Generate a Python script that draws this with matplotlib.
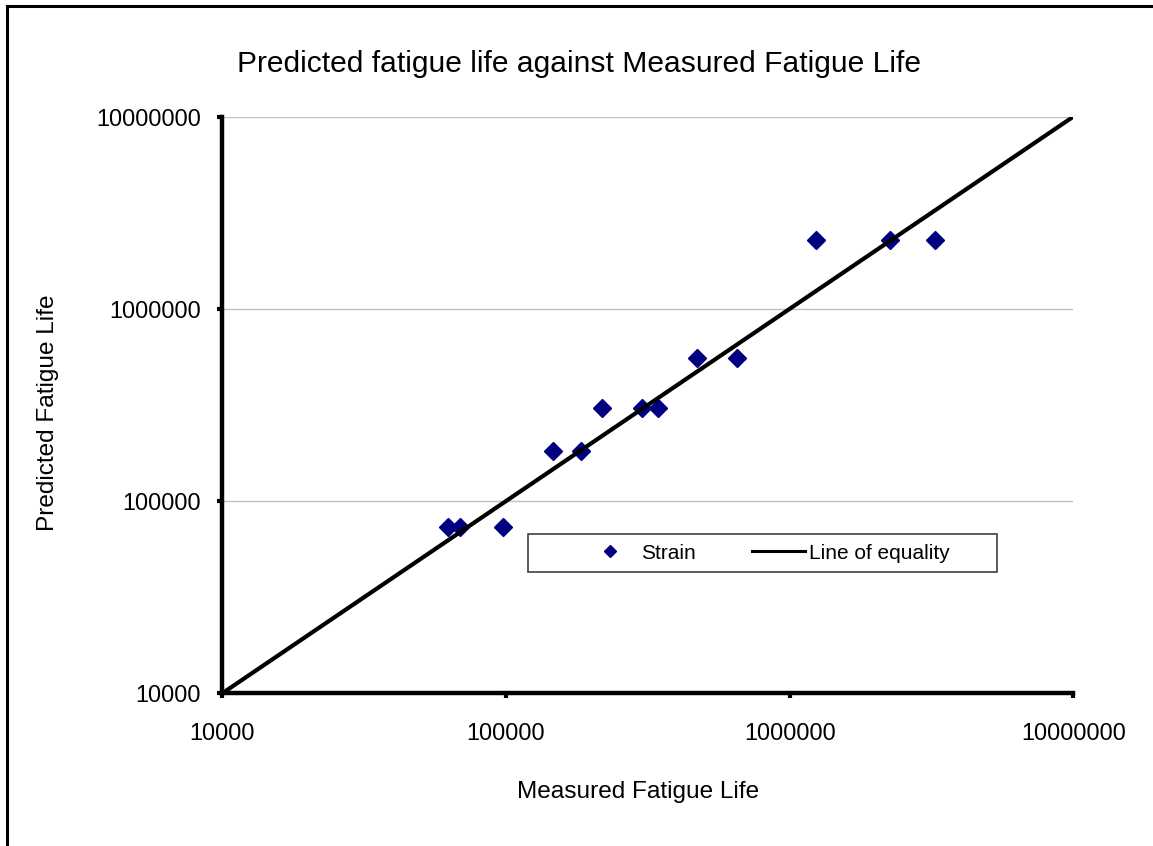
import matplotlib
matplotlib.use("Agg")
import matplotlib.pyplot as plt
from matplotlib.lines import Line2D
from matplotlib.patches import Rectangle
from matplotlib.ticker import FixedLocator, NullLocator

plt.rcParams["font.family"] = ["Liberation Sans", "DejaVu Sans"]

# measured vs predicted fatigue life
measured = [62600, 68900, 97800, 146100, 183800, 218500, 300800,
            344200, 470100, 650500, 1235000, 2257000, 3252000]
predicted = [73500, 73500, 73500, 182300, 182300, 306200, 306200,
             306200, 553400, 553400, 2283000, 2283000, 2283000]
equality = [10000, 10000000]
ticks = [10000, 100000, 1000000, 10000000]
tick_labels = ["10000", "100000", "1000000", "10000000"]

fig = plt.figure(figsize=(11.53, 8.46), dpi=100)
ax = fig.add_axes([0.1928, 0.1805, 0.7381, 0.6816])

ax.set_xscale("log")
ax.set_yscale("log")
ax.set_xlim(equality)
ax.set_ylim(equality)

ax.plot(measured, predicted, linestyle="none", marker="D", ms=8.7,
        color="#000080", zorder=3, clip_on=False)
ax.plot(equality, equality, color="black", lw=3, zorder=4,
        solid_capstyle="butt")

ax.xaxis.set_major_locator(FixedLocator(ticks))
ax.yaxis.set_major_locator(FixedLocator(ticks))
ax.xaxis.set_minor_locator(NullLocator())
ax.yaxis.set_minor_locator(NullLocator())
ax.set_xticklabels(tick_labels)
ax.set_yticklabels(tick_labels)
ax.tick_params(axis="both", direction="out", length=3.5, width=3,
               labelsize=16.8, colors="black")
ax.tick_params(axis="x", pad=17)
ax.tick_params(axis="y", pad=12)

ax.grid(axis="y", color="#c0c0c0", lw=1, zorder=0)
ax.set_axisbelow(True)
for side in ["top", "right"]:
    ax.spines[side].set_visible(False)
for side in ["left", "bottom"]:
    ax.spines[side].set_linewidth(3.2)

fig.text(0.502, 1 - 64 / 846,
         "Predicted fatigue life against Measured Fatigue Life",
         fontsize=21.6, ha="center", va="center")
ax.set_xlabel("Measured Fatigue Life", fontsize=17.6, va="center")
ax.set_ylabel("Predicted Fatigue Life", fontsize=17.6, va="center")
ax.xaxis.set_label_coords(0.4885, -0.171)
ax.yaxis.set_label_coords(-0.2048, 0.486)

# legend box drawn separately so the padding matches
ax.add_patch(Rectangle((0.3596, 0.2109), 0.5511, 0.0654,
                       transform=ax.transAxes, facecolor="white",
                       edgecolor="#404040", lw=1.2, zorder=5))
handles = [
    Line2D([], [], linestyle="none", marker="D", ms=6.5, color="#000080"),
    Line2D([], [], color="black", lw=2.2),
]
leg = ax.legend(handles, ["Strain", "Line of equality"], ncol=2,
                loc="center", bbox_to_anchor=(0.640, 0.2433),
                frameon=False, fontsize=15, handlelength=2.55,
                handletextpad=0.2, columnspacing=2.7)
leg.set_zorder(6)

# outer chart border (left and top edges visible)
fig.add_artist(Line2D([6.5 / 1153, 6.5 / 1153], [0, 1 - 6.5 / 846],
                      transform=fig.transFigure, color="black", lw=2.2))
fig.add_artist(Line2D([6.5 / 1153, 1], [1 - 6.5 / 846, 1 - 6.5 / 846],
                      transform=fig.transFigure, color="black", lw=2.2))

fig.savefig("out.png", dpi=100)
